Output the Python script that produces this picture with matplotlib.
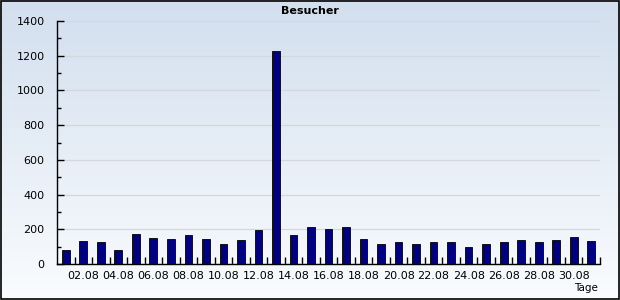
import numpy as np
import matplotlib
matplotlib.use("Agg")
import matplotlib.pyplot as plt
from matplotlib.colors import LinearSegmentedColormap

days = [f"{d:02d}.08" for d in range(1, 32)]
visitors = [80, 134, 127, 80, 173, 150, 144, 167, 144, 115, 138, 196, 1228, 167, 213,
            202, 213, 144, 115, 127, 115, 127, 127, 98, 115, 127, 138, 127, 138, 156, 133]
title = "Besucher"
xlabel = "Tage"
yticks = [0, 200, 400, 600, 800, 1000, 1200, 1400]

plt.rcParams['font.family'] = ['DejaVu Sans']
fig = plt.figure(figsize=(6.2, 3.0), dpi=100)

# gradient background
bg = fig.add_axes([0, 0, 1, 1], zorder=-10)
cmap = LinearSegmentedColormap.from_list("g", ["#d2dfee", "#fafcfe"])
grad = np.linspace(0, 1, 256).reshape(-1, 1)
bg.imshow(grad, aspect="auto", cmap=cmap, extent=[0, 1, 0, 1], origin="upper")
bg.set_xlim(0, 1); bg.set_ylim(0, 1)
bg.axis("off")
bg.add_patch(plt.Rectangle((0.001, 0.002), 0.997, 0.995, fill=False, edgecolor="black", lw=1.2,
                           transform=bg.transAxes))

ax = fig.add_axes([57/620, 36/300, 543/620, 243/300])
ax.set_facecolor("none")
x = np.arange(len(days))
ax.bar(x, visitors, width=0.44, color="#000080", edgecolor="black", linewidth=0.6, zorder=3)
ax.set_xlim(-0.5, len(days) - 0.5)
ax.set_ylim(0, 1400)

for s in ["top", "right"]:
    ax.spines[s].set_visible(False)
for s in ["left", "bottom"]:
    ax.spines[s].set_linewidth(1.0)
    ax.spines[s].set_color("black")

ax.set_yticks(yticks)
ax.set_yticks(np.arange(100, 1400, 200), minor=True)
ax.yaxis.grid(True, which="major", color="#d4d8dc", lw=0.9, zorder=0)
ax.tick_params(axis="y", which="major", direction="in", length=5, width=1, pad=9, labelsize=8)
ax.tick_params(axis="y", which="minor", direction="in", length=3, width=1)

lab_pos = x[1::2]
ax.set_xticks(lab_pos)
ax.set_xticklabels([days[i] for i in lab_pos])
ax.set_xticks(x + 0.5, minor=True)
ax.tick_params(axis="x", which="major", length=0, pad=5, labelsize=8)
ax.tick_params(axis="x", which="minor", direction="in", length=5, width=1)

fig.text(0.5, 0.965, title, ha="center", va="center", fontsize=8, fontweight="bold")
fig.text(598/620, 0.04, xlabel, ha="right", va="center", fontsize=7.5)

fig.savefig("out.png", dpi=100)
